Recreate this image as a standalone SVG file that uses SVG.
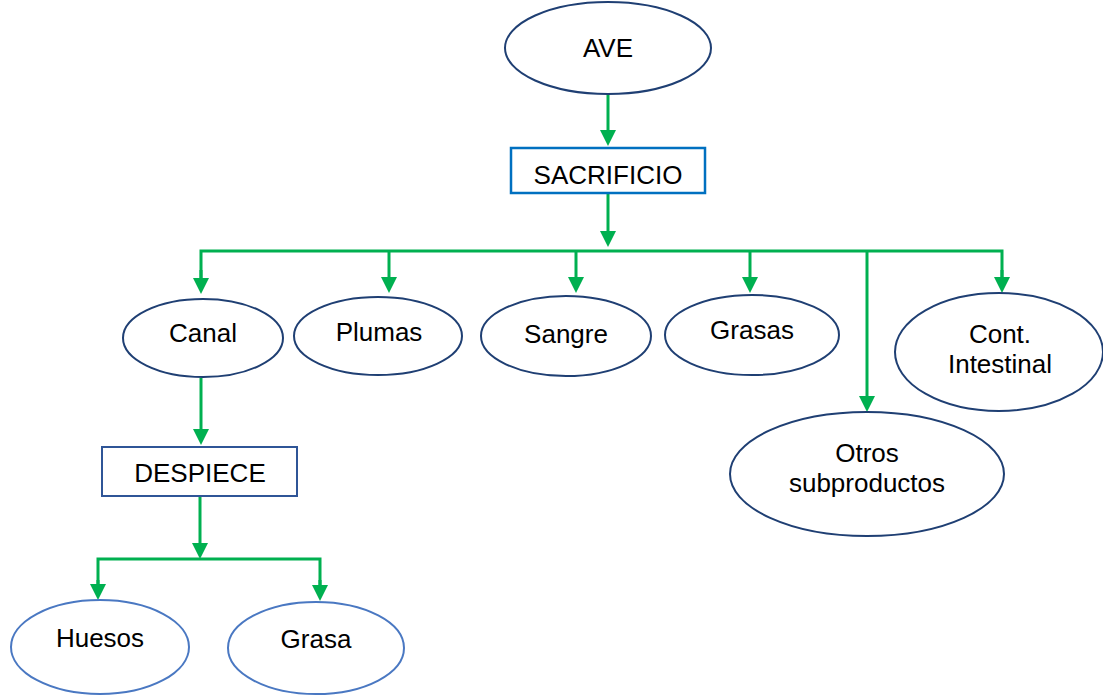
<svg xmlns="http://www.w3.org/2000/svg" width="1103" height="695" viewBox="0 0 1103 695">
  <style>
    text { font-family: "Liberation Sans", Arial, sans-serif; font-size: 26px; fill: #000; text-anchor: middle; }
    .node { fill: #fff; stroke: #1F3F73; stroke-width: 2; }
    .light { fill: #fff; stroke: #4A78C2; stroke-width: 2; }
    .box1 { fill: #fff; stroke: #0070C0; stroke-width: 2.5; }
    .box2 { fill: #fff; stroke: #2F5597; stroke-width: 2; }
    .link { fill: none; stroke: #00B050; stroke-width: 3; }
  </style>
  <defs>
    <marker id="head" markerUnits="userSpaceOnUse" markerWidth="16" markerHeight="16" refX="12" refY="8" orient="auto">
      <path d="M0,0 L16,8 L0,16 z" fill="#00B050"/>
    </marker>
  </defs>
  <rect width="1103" height="695" fill="#fff"/>

  <!-- connectors -->
  <g id="connectors">
    <line class="link" x1="608" y1="94" x2="608" y2="142" marker-end="url(#head)"/>
    <line class="link" x1="608" y1="193" x2="608" y2="243" marker-end="url(#head)"/>
    <polyline class="link" points="201,290 201,251 1002,251 1002,289"/>
    <line class="link" x1="201" y1="270" x2="201" y2="290" marker-end="url(#head)"/>
    <line class="link" x1="389" y1="251" x2="389" y2="289" marker-end="url(#head)"/>
    <line class="link" x1="576" y1="251" x2="576" y2="289" marker-end="url(#head)"/>
    <line class="link" x1="750" y1="251" x2="750" y2="289" marker-end="url(#head)"/>
    <line class="link" x1="867" y1="251" x2="867" y2="408" marker-end="url(#head)"/>
    <line class="link" x1="1002" y1="270" x2="1002" y2="289" marker-end="url(#head)"/>
    <line class="link" x1="201" y1="378" x2="201" y2="441" marker-end="url(#head)"/>
    <line class="link" x1="200" y1="496" x2="200" y2="555" marker-end="url(#head)"/>
    <polyline class="link" points="98,596 98,559 320,559 320,597"/>
    <line class="link" x1="98" y1="580" x2="98" y2="596" marker-end="url(#head)"/>
    <line class="link" x1="320" y1="580" x2="320" y2="597" marker-end="url(#head)"/>
  </g>

  <g id="ave">
    <ellipse class="node" cx="608" cy="48" rx="103" ry="46"/>
    <text x="608" y="57">AVE</text>
  </g>
  <g id="sacrificio">
    <rect class="box1" x="511" y="148" width="194" height="45"/>
    <text x="608" y="184">SACRIFICIO</text>
  </g>
  <g id="canal">
    <ellipse class="node" cx="203" cy="338" rx="80" ry="39"/>
    <text x="203" y="342">Canal</text>
  </g>
  <g id="plumas">
    <ellipse class="node" cx="378" cy="336" rx="84" ry="39"/>
    <text x="379" y="341">Plumas</text>
  </g>
  <g id="sangre">
    <ellipse class="node" cx="566" cy="336" rx="85" ry="40"/>
    <text x="566" y="343">Sangre</text>
  </g>
  <g id="grasas">
    <ellipse class="node" cx="752" cy="335" rx="87" ry="40"/>
    <text x="752" y="339">Grasas</text>
  </g>
  <g id="cont-intestinal">
    <ellipse class="node" cx="999" cy="352" rx="104" ry="59"/>
    <text x="1000" y="343">Cont.</text>
    <text x="1000" y="373">Intestinal</text>
  </g>
  <g id="otros">
    <ellipse class="node" cx="867" cy="474" rx="137" ry="62"/>
    <text x="867" y="462">Otros</text>
    <text x="867" y="492">subproductos</text>
  </g>
  <g id="despiece">
    <rect class="box2" x="102" y="447" width="195" height="49"/>
    <text x="200" y="482">DESPIECE</text>
  </g>
  <g id="huesos">
    <ellipse class="light" cx="100" cy="647" rx="89" ry="47"/>
    <text x="100" y="647">Huesos</text>
  </g>
  <g id="grasa">
    <ellipse class="light" cx="316" cy="648" rx="88" ry="46"/>
    <text x="316" y="648">Grasa</text>
  </g>
</svg>
